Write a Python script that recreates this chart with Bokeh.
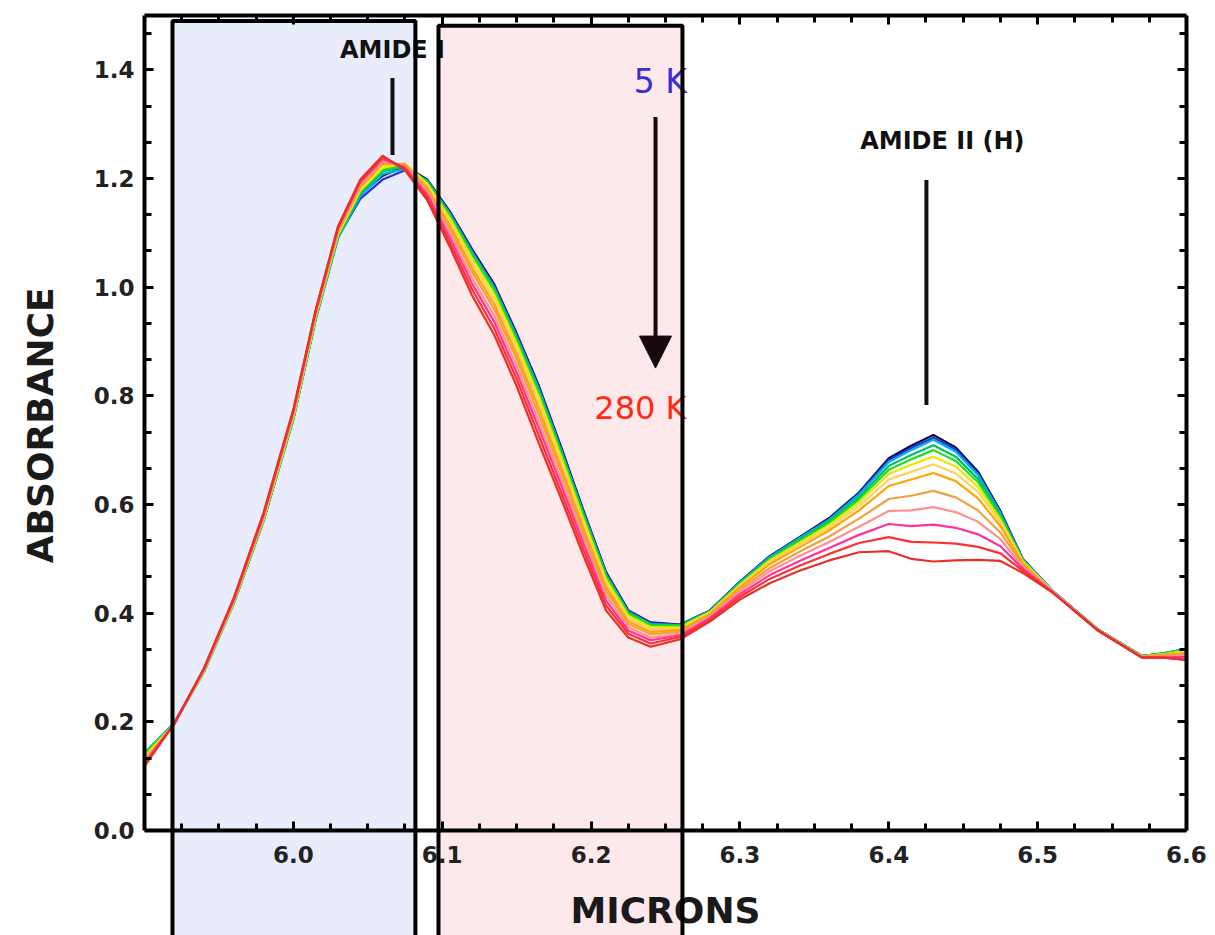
from bokeh.plotting import figure
from bokeh.models import (FixedTicker, LinearAxis, BoxAnnotation, Label, Arrow,
                          NormalHead, Range1d, PrintfTickFormatter)
from bokeh.embed import file_html
from bokeh.resources import INLINE

# Wavelength grid (microns) shared by every spectrum
microns = [5.900, 5.920, 5.940, 5.960, 5.980, 6.000, 6.015, 6.030, 6.045, 6.060,
           6.075, 6.090, 6.105, 6.120, 6.135, 6.150, 6.165, 6.180, 6.195, 6.210,
           6.225, 6.240, 6.260, 6.280, 6.300, 6.320, 6.340, 6.360, 6.380, 6.400,
           6.415, 6.430, 6.445, 6.460, 6.475, 6.490, 6.510, 6.540, 6.570, 6.585,
           6.600]

# Absorbance spectra, coldest (5 K) first, warmest (280 K) last
abs_01 = [0.136, 0.198, 0.294, 0.420, 0.572, 0.760, 0.944, 1.098, 1.170, 1.205,
          1.222, 1.198, 1.140, 1.070, 1.005, 0.915, 0.818, 0.705, 0.588, 0.476,
          0.405, 0.383, 0.379, 0.405, 0.458, 0.505, 0.540, 0.575, 0.622, 0.685,
          0.708, 0.728, 0.705, 0.660, 0.588, 0.500, 0.441, 0.371, 0.321, 0.326,
          0.334]
abs_02 = [0.140, 0.198, 0.293, 0.419, 0.571, 0.758, 0.942, 1.092, 1.163, 1.198,
          1.215, 1.197, 1.138, 1.067, 1.002, 0.912, 0.815, 0.702, 0.586, 0.474,
          0.404, 0.382, 0.378, 0.405, 0.457, 0.504, 0.539, 0.573, 0.620, 0.682,
          0.704, 0.723, 0.701, 0.657, 0.586, 0.499, 0.441, 0.371, 0.321, 0.326,
          0.334]
abs_03 = [0.143, 0.197, 0.292, 0.418, 0.570, 0.757, 0.940, 1.090, 1.168, 1.208,
          1.218, 1.196, 1.136, 1.065, 0.999, 0.909, 0.812, 0.699, 0.583, 0.472,
          0.402, 0.380, 0.378, 0.404, 0.457, 0.503, 0.538, 0.572, 0.618, 0.678,
          0.700, 0.719, 0.697, 0.654, 0.584, 0.499, 0.441, 0.371, 0.321, 0.326,
          0.334]
abs_04 = [0.142, 0.197, 0.292, 0.418, 0.570, 0.757, 0.941, 1.092, 1.172, 1.213,
          1.222, 1.195, 1.134, 1.062, 0.997, 0.906, 0.808, 0.696, 0.581, 0.470,
          0.401, 0.379, 0.377, 0.403, 0.455, 0.501, 0.535, 0.569, 0.613, 0.671,
          0.691, 0.709, 0.688, 0.647, 0.581, 0.498, 0.440, 0.371, 0.321, 0.326,
          0.334]
abs_05 = [0.140, 0.197, 0.293, 0.419, 0.571, 0.758, 0.942, 1.094, 1.175, 1.216,
          1.225, 1.193, 1.132, 1.060, 0.994, 0.903, 0.805, 0.694, 0.578, 0.467,
          0.399, 0.378, 0.376, 0.403, 0.454, 0.499, 0.533, 0.566, 0.609, 0.664,
          0.683, 0.700, 0.680, 0.641, 0.577, 0.497, 0.440, 0.370, 0.321, 0.326,
          0.334]
abs_06 = [0.136, 0.196, 0.294, 0.420, 0.573, 0.761, 0.945, 1.097, 1.178, 1.220,
          1.228, 1.190, 1.127, 1.053, 0.986, 0.896, 0.797, 0.686, 0.571, 0.462,
          0.395, 0.374, 0.374, 0.402, 0.452, 0.497, 0.529, 0.562, 0.603, 0.656,
          0.673, 0.688, 0.670, 0.632, 0.572, 0.496, 0.440, 0.370, 0.320, 0.324,
          0.330]
abs_07 = [0.132, 0.196, 0.295, 0.421, 0.575, 0.763, 0.947, 1.100, 1.181, 1.224,
          1.228, 1.187, 1.120, 1.045, 0.977, 0.886, 0.786, 0.677, 0.563, 0.455,
          0.390, 0.370, 0.371, 0.400, 0.450, 0.494, 0.526, 0.557, 0.597, 0.646,
          0.660, 0.674, 0.657, 0.623, 0.567, 0.494, 0.440, 0.370, 0.320, 0.324,
          0.330]
abs_08 = [0.130, 0.196, 0.295, 0.422, 0.576, 0.765, 0.949, 1.102, 1.184, 1.227,
          1.226, 1.183, 1.114, 1.036, 0.968, 0.876, 0.776, 0.667, 0.555, 0.448,
          0.385, 0.365, 0.369, 0.399, 0.448, 0.490, 0.521, 0.552, 0.589, 0.634,
          0.646, 0.658, 0.643, 0.611, 0.560, 0.492, 0.439, 0.370, 0.320, 0.324,
          0.326]
abs_09 = [0.128, 0.196, 0.296, 0.423, 0.578, 0.767, 0.951, 1.104, 1.187, 1.230,
          1.224, 1.179, 1.108, 1.028, 0.959, 0.867, 0.765, 0.658, 0.547, 0.441,
          0.380, 0.361, 0.366, 0.396, 0.443, 0.483, 0.513, 0.541, 0.574, 0.610,
          0.616, 0.625, 0.613, 0.589, 0.548, 0.489, 0.439, 0.370, 0.320, 0.321,
          0.326]
abs_10 = [0.126, 0.196, 0.296, 0.424, 0.579, 0.769, 0.953, 1.106, 1.190, 1.233,
          1.222, 1.174, 1.100, 1.017, 0.947, 0.855, 0.752, 0.646, 0.537, 0.432,
          0.374, 0.355, 0.362, 0.394, 0.439, 0.477, 0.505, 0.531, 0.559, 0.588,
          0.589, 0.595, 0.586, 0.568, 0.536, 0.485, 0.439, 0.369, 0.319, 0.321,
          0.320]
abs_11 = [0.124, 0.196, 0.297, 0.425, 0.581, 0.771, 0.955, 1.108, 1.193, 1.236,
          1.220, 1.170, 1.092, 1.007, 0.936, 0.843, 0.740, 0.635, 0.527, 0.423,
          0.368, 0.350, 0.359, 0.391, 0.435, 0.470, 0.496, 0.520, 0.544, 0.564,
          0.560, 0.563, 0.557, 0.545, 0.523, 0.482, 0.439, 0.369, 0.319, 0.318,
          0.320]
abs_12 = [0.121, 0.196, 0.298, 0.427, 0.583, 0.773, 0.957, 1.110, 1.196, 1.240,
          1.218, 1.165, 1.083, 0.996, 0.924, 0.831, 0.726, 0.622, 0.516, 0.414,
          0.362, 0.344, 0.356, 0.388, 0.430, 0.463, 0.487, 0.509, 0.529, 0.540,
          0.531, 0.530, 0.528, 0.522, 0.510, 0.478, 0.438, 0.369, 0.318, 0.318,
          0.314]
abs_13 = [0.118, 0.197, 0.299, 0.428, 0.585, 0.775, 0.958, 1.112, 1.198, 1.242,
          1.215, 1.160, 1.075, 0.985, 0.912, 0.818, 0.712, 0.610, 0.505, 0.405,
          0.355, 0.338, 0.352, 0.385, 0.425, 0.455, 0.478, 0.497, 0.512, 0.514,
          0.500, 0.495, 0.497, 0.498, 0.496, 0.474, 0.438, 0.369, 0.318, 0.318,
          0.314]

spectra = [abs_01, abs_02, abs_03, abs_04, abs_05, abs_06, abs_07, abs_08,
           abs_09, abs_10, abs_11, abs_12, abs_13]
line_colors = ["#0b0b3b", "#2233dd", "#00b0f0", "#00c060", "#22dd22", "#e8e800",
               "#ffd060", "#ffa500", "#f0a040", "#ff9090", "#ff3399", "#ff3030",
               "#e8302a"]

# Axis ticks
x_major = [6.0, 6.1, 6.2, 6.3, 6.4, 6.5, 6.6]
y_major = [0.0, 0.2, 0.4, 0.6, 0.8, 1.0, 1.2, 1.4]
x_minor = [round(5.9 + 0.025 * i, 3) for i in range(1, 28) if i % 4 != 0]
y_minor = [round(i / 15, 4) for i in range(1, 23) if i % 3 != 0]

# Highlighted wavelength bands: (left, right, top); they run down past the axis
blue_band = (5.9188, 6.082, 1.490)
pink_band = (6.0975, 6.2614, 1.481)

X_MIN, X_MAX = 5.9, 6.6
Y_MIN, Y_MAX = 0.0, 1.5
# extra room right of 6.6 and under the x axis for labels and the bands
X_VIEW_MAX = 6.6195
Y_VIEW_MIN = -0.1934

p = figure(width=1215, height=935, x_range=Range1d(X_MIN, X_VIEW_MAX),
           y_range=Range1d(Y_VIEW_MIN, Y_MAX),
           output_backend="svg", toolbar_location=None,
           min_border_left=144, min_border_right=0, min_border_top=15,
           min_border_bottom=0)
p.grid.visible = False
p.background_fill_color = "white"
p.border_fill_color = "white"
p.outline_line_color = None

p.add_layout(LinearAxis(), "above")
p.add_layout(LinearAxis(fixed_location=X_MAX), "right")

for ax in p.xaxis:
    ax.ticker = FixedTicker(ticks=x_major, minor_ticks=x_minor)
    ax.bounds = (X_MIN, X_MAX)
for ax in p.yaxis:
    ax.ticker = FixedTicker(ticks=y_major, minor_ticks=y_minor)
    ax.bounds = (Y_MIN, Y_MAX)

for ax in p.axis:
    ax.formatter = PrintfTickFormatter(format="%.1f")
    ax.axis_line_width = 4
    ax.axis_line_color = "black"
    ax.major_tick_line_width = 3
    ax.minor_tick_line_width = 3
    ax.major_tick_line_color = "black"
    ax.minor_tick_line_color = "black"
    ax.major_tick_in = 9
    ax.major_tick_out = 0
    ax.minor_tick_in = 7
    ax.minor_tick_out = 0
    ax.major_label_text_font = "DejaVu Sans"
    ax.major_label_text_font_style = "bold"
    ax.major_label_text_font_size = "23px"
    ax.major_label_text_color = "#222222"

# Top and right axes only carry ticks
for ax in (p.above[0], p.right[0]):
    ax.major_label_text_color = None
    ax.major_label_text_font_size = "8px"
    ax.major_label_standoff = 0

xax = p.below[0]
xax.fixed_location = 0
xax.major_label_standoff = 16
xax.axis_label = "MICRONS"
xax.axis_label_standoff = 23
xax.axis_label_text_font = "DejaVu Sans"
xax.axis_label_text_font_style = "bold"
xax.axis_label_text_font_size = "36px"
xax.axis_label_text_color = "#1a1a1a"

# The title is centred on the whole frame; the leading no-break spaces lift
# the visible word up to the middle of the 0 - 1.5 span.
yax = p.left[0]
yax.major_label_standoff = 10
yax.axis_label = "\u00a0" * 8 + "ABSORBANCE"
yax.axis_label_standoff = 30
yax.axis_label_text_font = "DejaVu Sans"
yax.axis_label_text_font_style = "bold"
yax.axis_label_text_font_size = "36px"
yax.axis_label_text_color = "#1a1a1a"

# Band fills sit beneath the spectra, band outlines on top of everything
for (left, right, top), fill in [(blue_band, "#e9ecfb"), (pink_band, "#fde8ec")]:
    p.add_layout(BoxAnnotation(left=left, right=right, bottom=Y_VIEW_MIN - 0.05, top=top,
                               fill_color=fill, fill_alpha=1.0, line_color=None,
                               level="underlay"))
    p.add_layout(BoxAnnotation(left=left, right=right, bottom=Y_VIEW_MIN - 0.05, top=top,
                               fill_alpha=0.0, line_color="black", line_alpha=1.0,
                               line_width=4, level="overlay"))

for ys, color in zip(spectra, line_colors):
    p.line(microns, ys, line_color=color, line_width=2.2)

# Band markers
p.segment(x0=[6.0666, 6.4253], y0=[1.243, 0.783], x1=[6.0666, 6.4253],
          y1=[1.385, 1.197], line_color="#111111", line_width=4)

label_font = "DejaVu Sans"
p.add_layout(Label(x=6.0666, y=1.437, text="AMIDE I", text_align="center",
                   text_baseline="middle", text_font=label_font,
                   text_font_style="bold", text_font_size="24px",
                   text_color="#111111"))
p.add_layout(Label(x=6.436, y=1.269, text="AMIDE II (H)", text_align="center",
                   text_baseline="middle", text_font=label_font,
                   text_font_style="bold", text_font_size="24px",
                   text_color="#111111"))
p.add_layout(Label(x=6.2466, y=1.378, text="5 K", text_align="center",
                   text_baseline="middle", text_font=label_font,
                   text_font_size="33px", text_color="#3a2fd0"))
p.add_layout(Label(x=6.2332, y=0.777, text="280 K", text_align="center",
                   text_baseline="middle", text_font=label_font,
                   text_font_size="32px", text_color="#ff2a12"))

p.add_layout(Arrow(x_start=6.2433, y_start=1.313, x_end=6.2433, y_end=0.851,
                   line_width=4, line_color="#160a10",
                   end=NormalHead(size=32, fill_color="#160a10",
                                  line_color="#160a10")))

open("out.html", "w").write(file_html(p, INLINE))
